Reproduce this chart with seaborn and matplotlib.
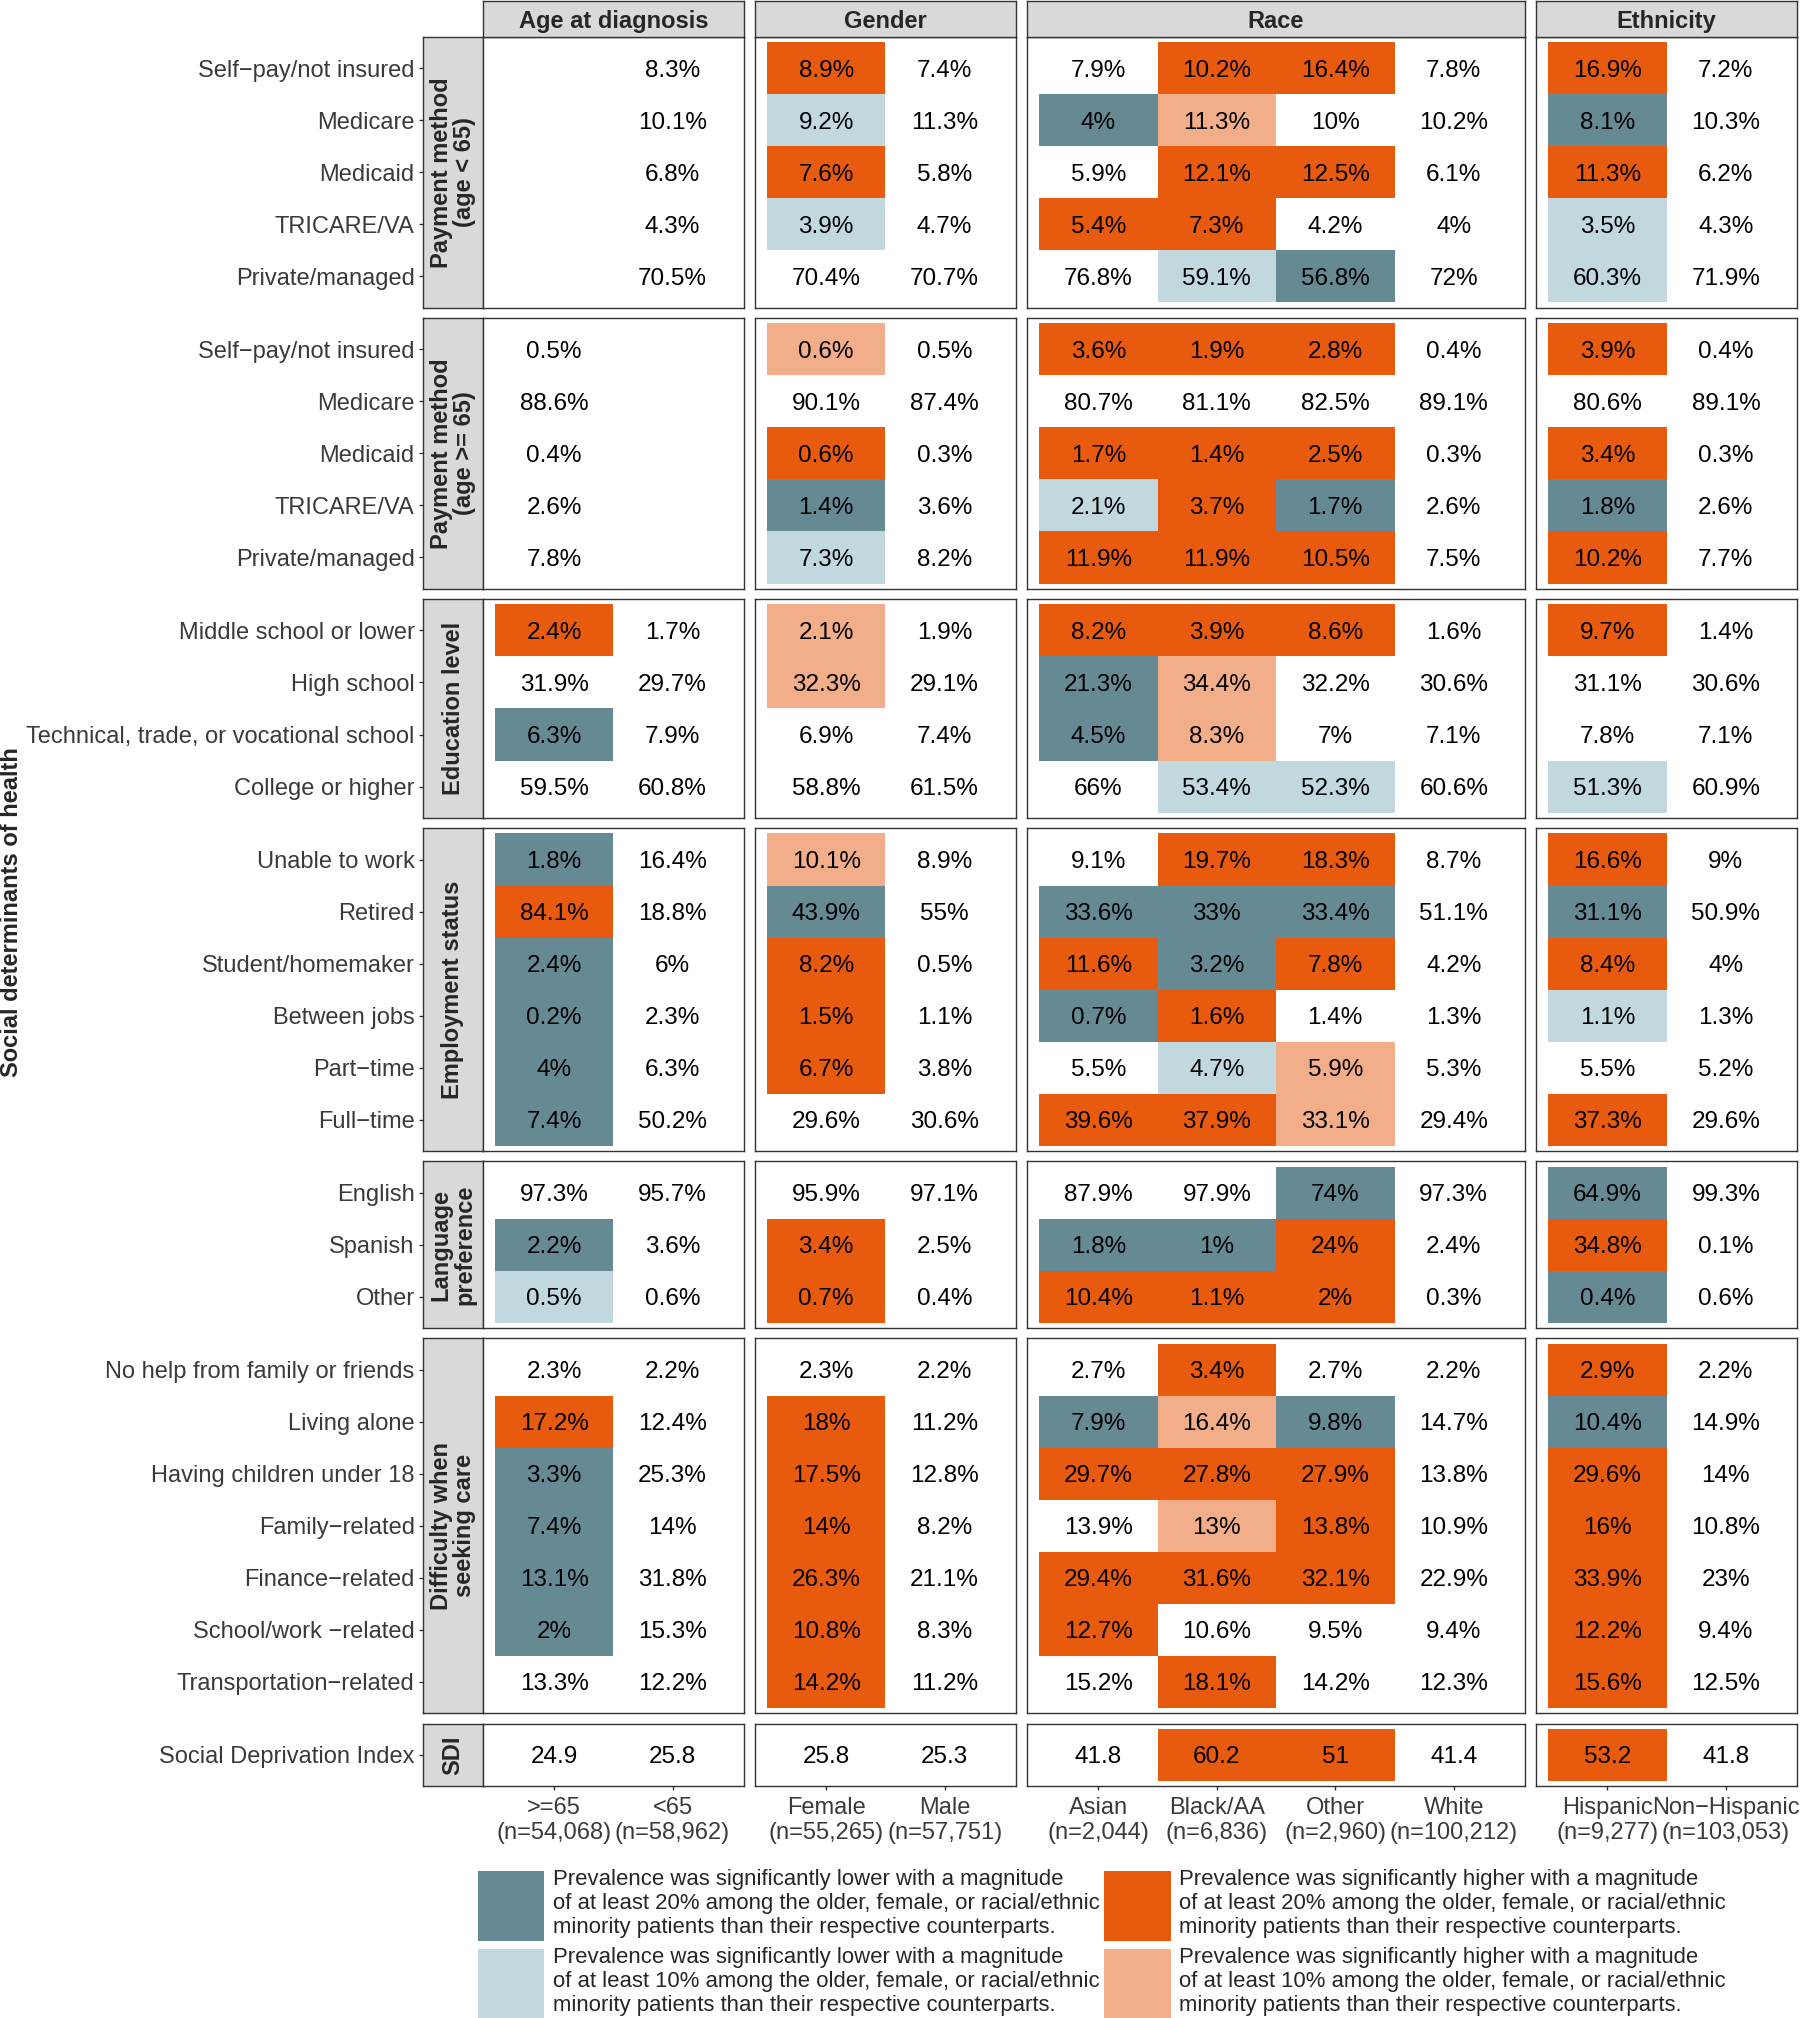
import numpy as np
import pandas as pd
import matplotlib
matplotlib.use("Agg")
import matplotlib.pyplot as plt
from matplotlib.colors import ListedColormap
from matplotlib.patches import Patch
import seaborn as sns

sns.set_theme(style="white")
plt.rcParams["font.family"] = ["Liberation Sans", "DejaVu Sans"]

NA = np.nan

# columns of the table
col_groups = ["Age at diagnosis", "Gender", "Race", "Ethnicity"]
col_members = [[">=65", "<65"],
               ["Female", "Male"],
               ["Asian", "Black/AA", "Other", "White"],
               ["Hispanic", "Non\u2212Hispanic"]]
col_counts = [["54,068", "58,962"],
              ["55,265", "57,751"],
              ["2,044", "6,836", "2,960", "100,212"],
              ["9,277", "103,053"]]

# rows of the table
row_groups = ["Payment method\n(age < 65)", "Payment method\n(age >= 65)",
              "Education level", "Employment status", "Language\npreference",
              "Difficulty when\nseeking care", "SDI"]
pay_items = ["Self\u2212pay/not insured", "Medicare", "Medicaid", "TRICARE/VA", "Private/managed"]
edu_items = ["Middle school or lower", "High school",
             "Technical, trade, or vocational school", "College or higher"]
emp_items = ["Unable to work", "Retired", "Student/homemaker", "Between jobs",
             "Part\u2212time", "Full\u2212time"]
lang_items = ["English", "Spanish", "Other"]
diff_items = ["No help from family or friends", "Living alone", "Having children under 18",
              "Family\u2212related", "Finance\u2212related", "School/work \u2212related",
              "Transportation\u2212related"]
sdi_items = ["Social Deprivation Index"]

# values: one row per item, columns >=65,<65,Female,Male,Asian,Black,Other,White,Hisp,NonHisp
# significance: 0 none, 1 lower >=20%, 2 lower >=10%, 3 higher >=20%, 4 higher >=10%
pay_lt65_pct = [[NA, 8.3, 8.9, 7.4, 7.9, 10.2, 16.4, 7.8, 16.9, 7.2],
                [NA, 10.1, 9.2, 11.3, 4, 11.3, 10, 10.2, 8.1, 10.3],
                [NA, 6.8, 7.6, 5.8, 5.9, 12.1, 12.5, 6.1, 11.3, 6.2],
                [NA, 4.3, 3.9, 4.7, 5.4, 7.3, 4.2, 4, 3.5, 4.3],
                [NA, 70.5, 70.4, 70.7, 76.8, 59.1, 56.8, 72, 60.3, 71.9]]
pay_lt65_sig = [[0, 0, 3, 0, 0, 3, 3, 0, 3, 0],
                [0, 0, 2, 0, 1, 4, 0, 0, 1, 0],
                [0, 0, 3, 0, 0, 3, 3, 0, 3, 0],
                [0, 0, 2, 0, 3, 3, 0, 0, 2, 0],
                [0, 0, 0, 0, 0, 2, 1, 0, 2, 0]]

pay_ge65_pct = [[0.5, NA, 0.6, 0.5, 3.6, 1.9, 2.8, 0.4, 3.9, 0.4],
                [88.6, NA, 90.1, 87.4, 80.7, 81.1, 82.5, 89.1, 80.6, 89.1],
                [0.4, NA, 0.6, 0.3, 1.7, 1.4, 2.5, 0.3, 3.4, 0.3],
                [2.6, NA, 1.4, 3.6, 2.1, 3.7, 1.7, 2.6, 1.8, 2.6],
                [7.8, NA, 7.3, 8.2, 11.9, 11.9, 10.5, 7.5, 10.2, 7.7]]
pay_ge65_sig = [[0, 0, 4, 0, 3, 3, 3, 0, 3, 0],
                [0, 0, 0, 0, 0, 0, 0, 0, 0, 0],
                [0, 0, 3, 0, 3, 3, 3, 0, 3, 0],
                [0, 0, 1, 0, 2, 3, 1, 0, 1, 0],
                [0, 0, 2, 0, 3, 3, 3, 0, 3, 0]]

edu_pct = [[2.4, 1.7, 2.1, 1.9, 8.2, 3.9, 8.6, 1.6, 9.7, 1.4],
           [31.9, 29.7, 32.3, 29.1, 21.3, 34.4, 32.2, 30.6, 31.1, 30.6],
           [6.3, 7.9, 6.9, 7.4, 4.5, 8.3, 7, 7.1, 7.8, 7.1],
           [59.5, 60.8, 58.8, 61.5, 66, 53.4, 52.3, 60.6, 51.3, 60.9]]
edu_sig = [[3, 0, 4, 0, 3, 3, 3, 0, 3, 0],
           [0, 0, 4, 0, 1, 4, 0, 0, 0, 0],
           [1, 0, 0, 0, 1, 4, 0, 0, 0, 0],
           [0, 0, 0, 0, 0, 2, 2, 0, 2, 0]]

emp_pct = [[1.8, 16.4, 10.1, 8.9, 9.1, 19.7, 18.3, 8.7, 16.6, 9],
           [84.1, 18.8, 43.9, 55, 33.6, 33, 33.4, 51.1, 31.1, 50.9],
           [2.4, 6, 8.2, 0.5, 11.6, 3.2, 7.8, 4.2, 8.4, 4],
           [0.2, 2.3, 1.5, 1.1, 0.7, 1.6, 1.4, 1.3, 1.1, 1.3],
           [4, 6.3, 6.7, 3.8, 5.5, 4.7, 5.9, 5.3, 5.5, 5.2],
           [7.4, 50.2, 29.6, 30.6, 39.6, 37.9, 33.1, 29.4, 37.3, 29.6]]
emp_sig = [[1, 0, 4, 0, 0, 3, 3, 0, 3, 0],
           [3, 0, 1, 0, 1, 1, 1, 0, 1, 0],
           [1, 0, 3, 0, 3, 1, 3, 0, 3, 0],
           [1, 0, 3, 0, 1, 3, 0, 0, 2, 0],
           [1, 0, 3, 0, 0, 2, 4, 0, 0, 0],
           [1, 0, 0, 0, 3, 3, 4, 0, 3, 0]]

lang_pct = [[97.3, 95.7, 95.9, 97.1, 87.9, 97.9, 74, 97.3, 64.9, 99.3],
            [2.2, 3.6, 3.4, 2.5, 1.8, 1, 24, 2.4, 34.8, 0.1],
            [0.5, 0.6, 0.7, 0.4, 10.4, 1.1, 2, 0.3, 0.4, 0.6]]
lang_sig = [[0, 0, 0, 0, 0, 0, 1, 0, 1, 0],
            [1, 0, 3, 0, 1, 1, 3, 0, 3, 0],
            [2, 0, 3, 0, 3, 3, 3, 0, 1, 0]]

diff_pct = [[2.3, 2.2, 2.3, 2.2, 2.7, 3.4, 2.7, 2.2, 2.9, 2.2],
            [17.2, 12.4, 18, 11.2, 7.9, 16.4, 9.8, 14.7, 10.4, 14.9],
            [3.3, 25.3, 17.5, 12.8, 29.7, 27.8, 27.9, 13.8, 29.6, 14],
            [7.4, 14, 14, 8.2, 13.9, 13, 13.8, 10.9, 16, 10.8],
            [13.1, 31.8, 26.3, 21.1, 29.4, 31.6, 32.1, 22.9, 33.9, 23],
            [2, 15.3, 10.8, 8.3, 12.7, 10.6, 9.5, 9.4, 12.2, 9.4],
            [13.3, 12.2, 14.2, 11.2, 15.2, 18.1, 14.2, 12.3, 15.6, 12.5]]
diff_sig = [[0, 0, 0, 0, 0, 3, 0, 0, 3, 0],
            [3, 0, 3, 0, 1, 4, 1, 0, 1, 0],
            [1, 0, 3, 0, 3, 3, 3, 0, 3, 0],
            [1, 0, 3, 0, 0, 4, 3, 0, 3, 0],
            [1, 0, 3, 0, 3, 3, 3, 0, 3, 0],
            [1, 0, 3, 0, 3, 0, 0, 0, 3, 0],
            [0, 0, 3, 0, 0, 3, 0, 0, 3, 0]]

sdi_val = [[24.9, 25.8, 25.8, 25.3, 41.8, 60.2, 51, 41.4, 53.2, 41.8]]
sdi_sig = [[0, 0, 0, 0, 0, 3, 3, 0, 3, 0]]

row_items = [pay_items, pay_items, edu_items, emp_items, lang_items, diff_items, sdi_items]
pct_tables = [pay_lt65_pct, pay_ge65_pct, edu_pct, emp_pct, lang_pct, diff_pct, sdi_val]
sig_tables = [pay_lt65_sig, pay_ge65_sig, edu_sig, emp_sig, lang_sig, diff_sig, sdi_sig]

legend_labels = [
    "Prevalence was significantly lower with a magnitude\nof at least 20% among the older, female, or racial/ethnic\nminority patients than their respective counterparts.",
    "Prevalence was significantly lower with a magnitude\nof at least 10% among the older, female, or racial/ethnic\nminority patients than their respective counterparts.",
    "Prevalence was significantly higher with a magnitude\nof at least 20% among the older, female, or racial/ethnic\nminority patients than their respective counterparts.",
    "Prevalence was significantly higher with a magnitude\nof at least 10% among the older, female, or racial/ethnic\nminority patients than their respective counterparts.",
]

# long table
cols_flat = [c for grp in col_members for c in grp]
colgrp_flat = [g for g, grp in zip(col_groups, col_members) for _ in grp]
rec = []
for g, items, pct, sig in zip(row_groups, row_items, pct_tables, sig_tables):
    for i, item in enumerate(items):
        for j, col in enumerate(cols_flat):
            v = pct[i][j]
            if np.isnan(v):
                lab = ""
            elif g == "SDI":
                lab = f"{v:g}"
            else:
                lab = f"{v:g}%"
            rec.append(dict(group=g, item=item, colgroup=colgrp_flat[j], col=col,
                            value=v, sig=sig[i][j], label=lab))
df = pd.DataFrame(rec)

pal = ["#ffffff", "#668a94", "#c0d8de", "#e85b0e", "#f2ae88"]
cmap = ListedColormap(pal)

W, H = 1800, 2018
fig = plt.figure(figsize=(W / 100, H / 100), dpi=100)


def rect(x0, y0, w, h):
    return [x0 / W, 1 - (y0 + h) / H, w / W, h / H]


ux, gx, left0 = 118.47, 11.5, 483
uy, gy, top0 = 52.04, 10.5, 37
edge = "#333333"
tick_col = "#3a3a3a"
fs = 17

col_x = []
x = left0
for grp in col_members:
    w = (len(grp) + 0.2) * ux
    col_x.append((x, w))
    x += w + gx

y = top0
for r, (g, items) in enumerate(zip(row_groups, row_items)):
    m = len(items)
    h = (m + 0.2) * uy
    # row strip with the item labels
    sax = fig.add_axes(rect(423, y, 60, h))
    sax.set_facecolor("#d9d9d9")
    sax.set_xlim(0, 1)
    sax.set_ylim(m + 0.1, -0.1)
    sax.set_xticks([])
    sax.set_yticks(np.arange(m) + 0.5)
    sax.set_yticklabels(items)
    sax.tick_params(axis="y", left=True, length=3, width=1, color=edge,
                    labelcolor=tick_col, labelsize=fs, pad=3)
    for sp in sax.spines.values():
        sp.set_visible(True)
        sp.set_color(edge)
        sp.set_linewidth(1.0)
    sax.text(0.5, 0.5, g, transform=sax.transAxes, rotation=90, ha="center",
             va="center", fontsize=fs, fontweight="bold", linespacing=1.05)

    for c, (cg, members) in enumerate(zip(col_groups, col_members)):
        x0, w = col_x[c]
        ax = fig.add_axes(rect(x0, y, w, h))
        sub = df[(df.group == g) & (df.colgroup == cg)]
        sig_m = sub.pivot(index="item", columns="col", values="sig").reindex(index=items, columns=members)
        val_m = sub.pivot(index="item", columns="col", values="value").reindex(index=items, columns=members)
        lab_m = sub.pivot(index="item", columns="col", values="label").reindex(index=items, columns=members)
        sns.heatmap(sig_m, mask=val_m.isna(), annot=lab_m.values, fmt="", cmap=cmap,
                    vmin=-0.5, vmax=4.5, cbar=False, ax=ax,
                    xticklabels=False, yticklabels=False,
                    annot_kws=dict(color="black", fontsize=17.5, va="center_baseline"))
        n = len(members)
        ax.set_xlim(-0.1, n + 0.1)
        ax.set_ylim(m + 0.1, -0.1)
        ax.set_xlabel("")
        ax.set_ylabel("")
        ax.set_yticks([])
        for sp in ax.spines.values():
            sp.set_visible(True)
            sp.set_color(edge)
            sp.set_linewidth(1.0)
        if r == len(row_groups) - 1:
            ax.set_xticks(np.arange(n) + 0.5)
            ax.set_xticklabels([f"{a}\n(n={b})" for a, b in zip(members, col_counts[c])],
                               linespacing=1.15)
            ax.tick_params(axis="x", bottom=True, length=3, width=1, color=edge,
                           labelcolor=tick_col, labelsize=fs, pad=5)
        else:
            ax.set_xticks([])
        if r == 0:
            hax = fig.add_axes(rect(x0, 1, w, 36))
            hax.set_facecolor("#d9d9d9")
            hax.set_xticks([])
            hax.set_yticks([])
            for sp in hax.spines.values():
                sp.set_visible(True)
                sp.set_color(edge)
                sp.set_linewidth(1.0)
            hax.text(0.5, 0.5, cg, transform=hax.transAxes, ha="center",
                     va="center_baseline", fontsize=fs, fontweight="bold")
    y += h + gy

fig.text(12 / W, 1 - 912 / H, "Social determinants of health", rotation=90,
         ha="center", va="center", fontsize=fs, fontweight="bold")

handles = [Patch(facecolor=pal[k], edgecolor="none") for k in [1, 2, 3, 4]]
fig.legend(handles, legend_labels, ncol=2, loc="upper left",
           bbox_to_anchor=(478 / W, 1 - 1869 / H), frameon=False,
           fontsize=15.9, handlelength=3.0, handleheight=4.5, handletextpad=0.4,
           columnspacing=0.2, labelspacing=0.3, borderpad=0, borderaxespad=0)
for t in fig.legends[0].get_texts():
    t.set_linespacing(1.18)

fig.savefig("out.png", dpi=100)
